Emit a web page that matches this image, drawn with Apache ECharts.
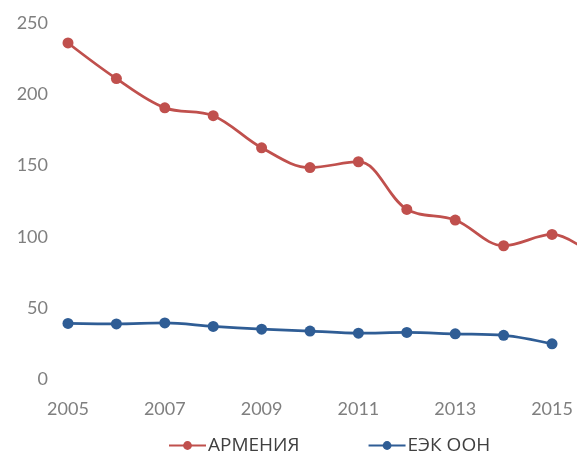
<!DOCTYPE html>
<html><head><meta charset="utf-8">
<script src="https://cdn.jsdelivr.net/npm/echarts@6/dist/echarts.min.js"></script>
<style>html,body{margin:0;padding:0;background:#fff}#c{width:577px;height:452px}</style>
</head><body><div id="c"></div>
<script>
const years = [2005, 2006, 2007, 2008, 2009, 2010, 2011, 2012, 2013, 2014, 2015, 2016];
const armenia = [236, 211, 190.5, 185, 162.5, 148.6, 152.7, 119.3, 111.8, 93.8, 101.7, 83];
const unece = [39.3, 39, 39.7, 37.2, 35.3, 34, 32.5, 33, 32, 31, 25, null];
const yTicks = {min: 0, max: 250, interval: 50};
const xLabelYears = [2005, 2007, 2009, 2011, 2013, 2015];

const pair = (vals) => years.map((y, i) => [y, vals[i]]);
const font = 'Lato, "Open Sans", sans-serif';

const chart = echarts.init(document.getElementById('c'));
chart.setOption({
  animation: false,
  textStyle: {fontFamily: font},
  grid: {left: 68, top: 23, right: 0, height: 356.5, containLabel: false},
  xAxis: {
    type: 'value', min: 2005, max: 2015.516, interval: 1,
    axisLine: {show: false}, axisTick: {show: false}, splitLine: {show: false},
    axisLabel: {color: '#7f7f7f', fontSize: 18, margin: 21, fontFamily: font,
      showMaxLabel: false,
      formatter: v => xLabelYears.indexOf(v) >= 0 ? String(v) : ''}
  },
  yAxis: {
    type: 'value', min: yTicks.min, max: yTicks.max, interval: yTicks.interval,
    axisLine: {show: false}, axisTick: {show: false}, splitLine: {show: false},
    axisLabel: {color: '#7f7f7f', fontSize: 18, margin: 20, fontFamily: font}
  },
  legend: {
    left: 163, top: 431, padding: 5, itemWidth: 37, itemHeight: 11, itemGap: 68,
    textStyle: {color: '#404040', fontSize: 19, padding: [0,0,0,-3], fontFamily: '"Open Sans", Lato, sans-serif'},
    data: ['АРМЕНИЯ', 'ЕЭК ООН']
  },
  series: [
    {name: 'АРМЕНИЯ', type: 'line', data: pair(armenia), smooth: 0.35, symbol: 'circle', symbolSize: 11,
     color: '#C0504D', lineStyle: {width: 2.75, color: '#C0504D'}, itemStyle: {color: '#C0504D'}},
    {name: 'ЕЭК ООН', type: 'line', data: pair(unece), smooth: 0.35, symbol: 'circle', symbolSize: 11,
     color: '#2F5D95', lineStyle: {width: 2.75, color: '#2F5D95'}, itemStyle: {color: '#2F5D95'}}
  ]
});
</script></body></html>
